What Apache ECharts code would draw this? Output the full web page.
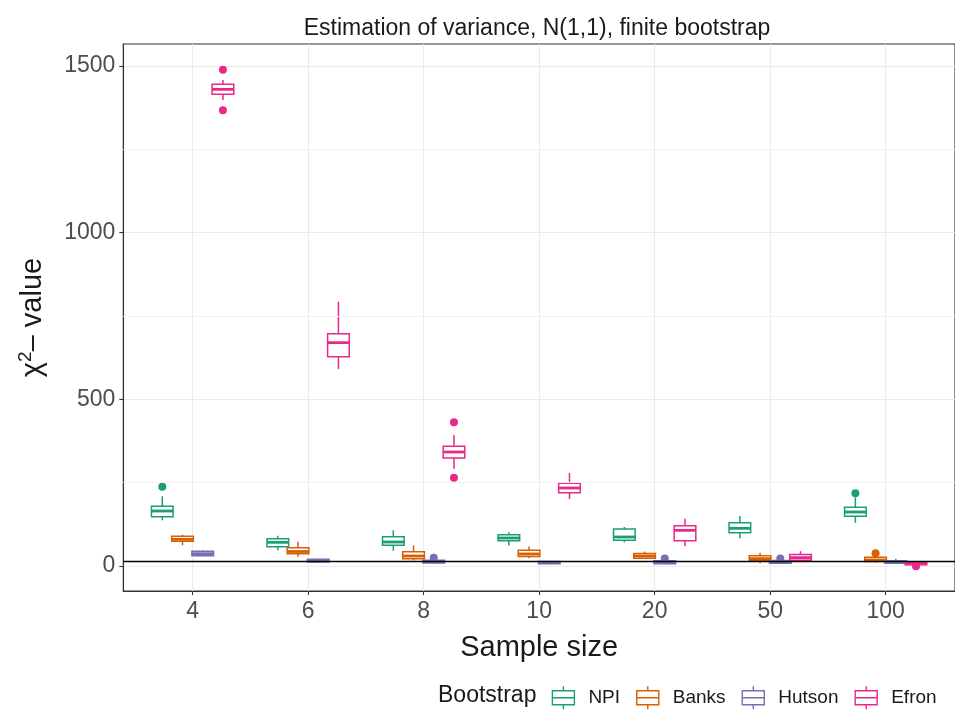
<!DOCTYPE html>
<html><head><meta charset="utf-8">
<script src="https://cdn.jsdelivr.net/npm/echarts@6/dist/echarts.min.js"></script>
<style>html,body{margin:0;padding:0;background:#fff}#c{width:955px;height:711px}</style>
</head><body><div id="c"></div>
<script>
// ---- data ----
const categories = ['4', '6', '8', '10', '20', '50', '100'];
const seriesNames = ['NPI', 'Banks', 'Hutson', 'Efron'];
const seriesColors = ['#1B9E77', '#D95F02', '#7570B3', '#E7298A'];
// [lowerWhisker, Q1, median, Q3, upperWhisker] per sample size
const npiBoxes = [
  [137, 147.5, 165, 179, 209],
  [47, 57.5, 71, 81.5, 91],
  [45.5, 62, 72, 87.5, 107],
  [61.5, 75.5, 84, 93.5, 101],
  [71, 77, 87, 111, 117],
  [83, 100, 113, 129.5, 150],
  [129.5, 149, 162, 176, 206]
];
const banksBoxes = [
  [62, 74, 80, 89, 94],
  [27.6, 36.6, 43.5, 54.5, 72.5],
  [17, 21.6, 30, 42.6, 62],
  [23.4, 28.5, 36, 47.4, 58.4],
  [21, 23.4, 30, 37.5, 43.5],
  [8.4, 17.4, 22, 30.5, 39.5],
  [10, 13.5, 18, 26.4, 28]
];
const hutsonBoxes = [
  [29, 31, 37, 44, 47],
  [10, 12, 16, 20, 22],
  [7, 9, 13, 17, 19],
  [5, 7, 10, 13.5, 15],
  [5, 7, 11, 16, 18],
  [6, 8.4, 12, 16.5, 18],
  [6, 8.4, 12, 16, 21.6]
];
const efronBoxes = [
  [1398, 1415, 1430, 1445, 1458],
  [591, 628, 670, 697, 793],
  [292, 324, 342, 359, 393],
  [201, 220, 234, 248, 279],
  [59, 75.5, 107, 120.5, 141.5],
  [11.4, 17.4, 25, 34.5, 44.4],
  [2, 4, 7, 10, 13]
];
// outliers: [categoryIndex, value]
const npiOutliers = [[0, 238], [6, 218]];
const banksOutliers = [[6, 38]];
const hutsonOutliers = [[2, 25], [4, 22.5], [5, 22.5]];
const efronOutliers = [[0, 1489], [0, 1367], [2, 431], [2, 265], [6, -1]];
const referenceLine = 14;
const yTickValues = [0, 500, 1000, 1500];
const yMinorValues = [250, 750, 1250];

// ---- chart ----
const FONT = "'Liberation Sans', Arial, sans-serif";
const allBoxes = [npiBoxes, banksBoxes, hutsonBoxes, efronBoxes];
const allOutliers = [npiOutliers, banksOutliers, hutsonOutliers, efronOutliers];
const dodge = [-0.2625, -0.0875, 0.0875, 0.2625];
const boxWidth = 0.1875;

function makeRender(offset, color) {
  return function (params, api) {
    const x = api.value(0) + offset;
    const lo = api.coord([x, api.value(1)]);
    const q1 = api.coord([x, api.value(2)]);
    const md = api.coord([x, api.value(3)]);
    const q3 = api.coord([x, api.value(4)]);
    const hi = api.coord([x, api.value(5)]);
    const w = api.size([boxWidth, 0])[0];
    const cx = lo[0];
    const ls = { stroke: color, lineWidth: 1.5, fill: null };
    return {
      type: 'group',
      children: [
        { type: 'line', shape: { x1: cx, y1: hi[1], x2: cx, y2: q3[1] }, style: ls },
        { type: 'line', shape: { x1: cx, y1: q1[1], x2: cx, y2: lo[1] }, style: ls },
        { type: 'rect', shape: { x: cx - w / 2, y: q3[1], width: w, height: q1[1] - q3[1] },
          style: { stroke: color, lineWidth: 1.5, fill: '#fff' } },
        { type: 'line', shape: { x1: cx - w / 2, y1: md[1], x2: cx + w / 2, y2: md[1] },
          style: { stroke: color, lineWidth: 2.8 } }
      ]
    };
  };
}

const series = [];
series.push({
  type: 'line', data: [], z: 1, silent: true,
  markLine: {
    silent: true, symbol: 'none', label: { show: false },
    lineStyle: { color: '#f2f2f2', width: 1, type: 'solid' },
    data: yMinorValues.map(v => ({ yAxis: v }))
  }
});
seriesNames.forEach((name, i) => {
  series.push({
    type: 'custom', name: name, z: 3,
    itemStyle: { color: seriesColors[i] },
    renderItem: makeRender(dodge[i], seriesColors[i]),
    encode: { x: 0, y: [1, 2, 3, 4, 5] },
    data: allBoxes[i].map((b, k) => [k].concat(b))
  });
  series.push({
    type: 'scatter', name: name, z: 4,
    symbolSize: 8,
    itemStyle: { color: seriesColors[i], opacity: 1 },
    data: allOutliers[i].map(p => [p[0] + dodge[i], p[1]])
  });
});
series.push({
  type: 'line', data: [], z: 5, silent: true,
  markLine: {
    silent: true, symbol: 'none', label: { show: false },
    lineStyle: { color: '#000', width: 1.4, type: 'solid' },
    data: [{ yAxis: referenceLine }]
  }
});

const legendIcon = 'path://M11,0L11,4.5M0,4.5L22,4.5L22,18.5L0,18.5ZM0,11.5L22,11.5M11,18.5L11,23';

const option = {
  animation: false,
  backgroundColor: '#fff',
  textStyle: { fontFamily: FONT },
  title: {
    text: 'Estimation of variance, N(1,1), finite bootstrap',
    left: 537, top: 17, textAlign: 'center', padding: 0,
    textStyle: { fontFamily: FONT, fontSize: 23, fontWeight: 'normal', color: '#1a1a1a' }
  },
  grid: {
    left: 123.3, right: -5, top: 44, bottom: 120,
    show: true, borderColor: '#333', borderWidth: 1.1, containLabel: false
  },
  xAxis: {
    type: 'value', min: -0.6, max: 6.6,
    name: 'Sample size', nameLocation: 'middle', nameGap: 42,
    nameTextStyle: { fontFamily: FONT, fontSize: 29, color: '#1a1a1a' },
    axisLine: { show: true, onZero: false, lineStyle: { color: '#333', width: 1.1 } },
    axisTick: { show: true, length: 4, customValues: [0, 1, 2, 3, 4, 5, 6], lineStyle: { color: '#333', width: 1.1 } },
    axisLabel: {
      customValues: [0, 1, 2, 3, 4, 5, 6], margin: 9,
      fontFamily: FONT, fontSize: 23, color: '#4d4d4d',
      formatter: v => categories[Math.round(v)]
    },
    splitLine: { show: true, lineStyle: { color: '#ebebeb', width: 1.1 } }
  },
  yAxis: {
    type: 'value', min: -75, max: 1566,
    name: '{a|χ}{s|2}{a|– value}', nameLocation: 'middle', nameGap: 74, nameRotate: 90,
    nameTextStyle: {
      fontFamily: FONT, fontSize: 29, color: '#1a1a1a',
      rich: {
        a: { fontFamily: FONT, fontSize: 29, color: '#1a1a1a' },
        s: { fontFamily: FONT, fontSize: 19, color: '#1a1a1a', verticalAlign: 'top', padding: [0, 0, 14, 0] }
      }
    },
    axisLine: { show: true, onZero: false, lineStyle: { color: '#333', width: 1.1 } },
    axisTick: { show: true, length: 4, customValues: yTickValues, lineStyle: { color: '#333', width: 1.1 } },
    axisLabel: {
      customValues: yTickValues, margin: 8, fontFamily: FONT, fontSize: 23, color: '#4d4d4d',
      formatter: v => String(v)
    },
    splitLine: { show: true, lineStyle: { color: '#ebebeb', width: 1.1 } }
  },
  legend: {
    left: 551.7, top: 685.5, orient: 'horizontal', padding: 0,
    itemWidth: 22, itemHeight: 23, itemGap: 16,
    icon: legendIcon,
    textStyle: { fontFamily: FONT, fontSize: 19, color: '#1a1a1a', padding: [0, 0, 0, 9] },
    data: seriesNames.map((n, i) => ({
      name: n, icon: legendIcon,
      itemStyle: { color: '#fff', borderColor: seriesColors[i], borderWidth: 1.4 }
    }))
  },
  graphic: [{
    type: 'text',
    style: {
      x: 438, y: 696, align: 'left', verticalAlign: 'middle',
      text: 'Bootstrap', fontFamily: FONT, fontSize: 23, fill: '#1a1a1a'
    }
  }],
  series: series
};

const chart = echarts.init(document.getElementById('c'), null, { renderer: 'canvas' });
chart.setOption(option);
</script></body></html>
